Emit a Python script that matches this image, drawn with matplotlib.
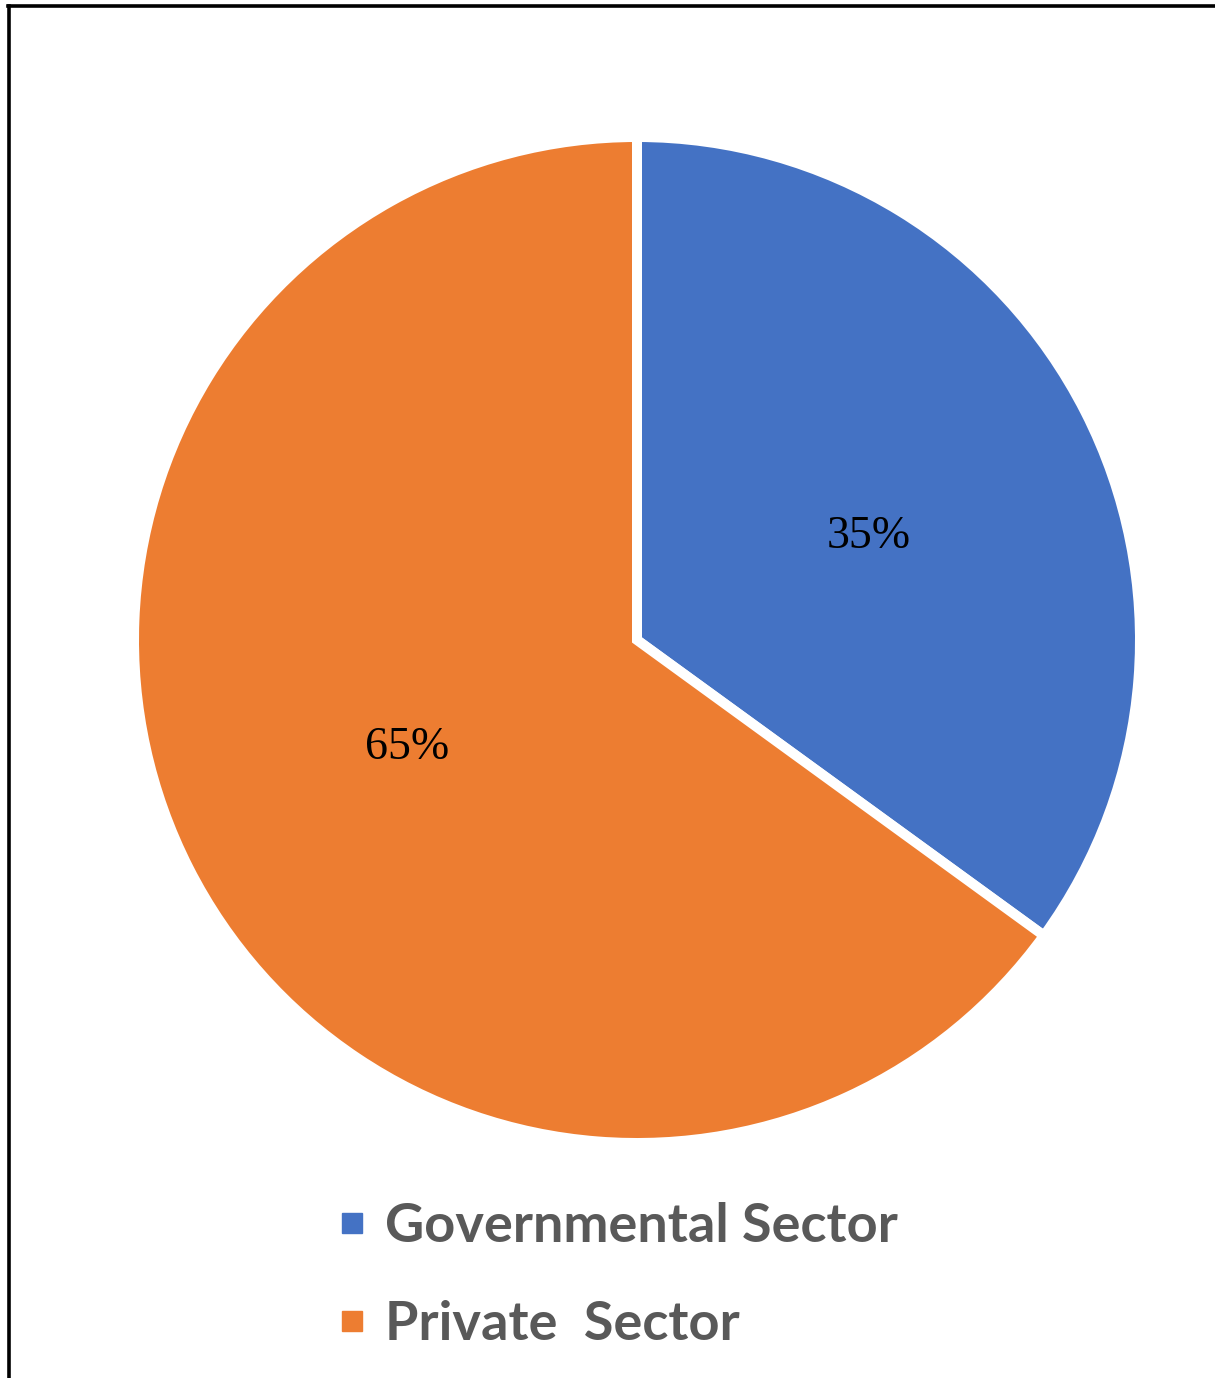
import matplotlib
matplotlib.use("Agg")
import matplotlib.pyplot as plt
from matplotlib.lines import Line2D

categories = ["Governmental Sector", "Private  Sector"]
values = [35, 65]
colors = ["#4472C4", "#ED7D31"]

W, H = 1215, 1378
fig = plt.figure(figsize=(W / 100, H / 100), dpi=100)
fig.patch.set_facecolor("white")

# pie axes: center (637, 640) px from top, radius ~498 px
R = 503
cx, cy = 637, H - 640
ax = fig.add_axes([(cx - R) / W, (cy - R) / H, 2 * R / W, 2 * R / H])
wedges, texts, autotexts = ax.pie(
    values, colors=colors, startangle=90, counterclock=False,
    autopct=lambda p: f"{p:.0f}%", pctdistance=0.51, radius=1.0,
    wedgeprops=dict(edgecolor="white", linewidth=7.2),
    textprops=dict(family="Liberation Serif", fontsize=33, color="black"),
)
# label placement as in the original chart
label_pos = [(0.461, 0.205), (-0.457, -0.215)]
for t, p in zip(autotexts, label_pos):
    t.set_position(p)
ax.set_xlim(-1, 1)
ax.set_ylim(-1, 1)
ax.set_aspect("equal")
ax.axis("off")

# legend
handles = [Line2D([], [], marker="s", linestyle="none", markersize=13.7,
                  markerfacecolor=c, markeredgecolor=c) for c in colors]
leg = fig.legend(handles, categories, loc="upper left",
                 bbox_to_anchor=(338 / W, 1 - 1202 / H), frameon=False,
                 prop=dict(family="Lato", weight="bold", size=39),
                 labelcolor="#595959", handlelength=0.5, handletextpad=0.36,
                 labelspacing=0.9, borderpad=0, borderaxespad=0)

# border lines (top and left)
fig.add_artist(Line2D([8 / W, 1], [1 - 5.5 / H, 1 - 5.5 / H], color="black", lw=2.6,
                      transform=fig.transFigure))
fig.add_artist(Line2D([8.5 / W, 8.5 / W], [0, 1 - 5.5 / H], color="black", lw=2.6,
                      transform=fig.transFigure))

fig.savefig("out.png", dpi=100, facecolor="white")
